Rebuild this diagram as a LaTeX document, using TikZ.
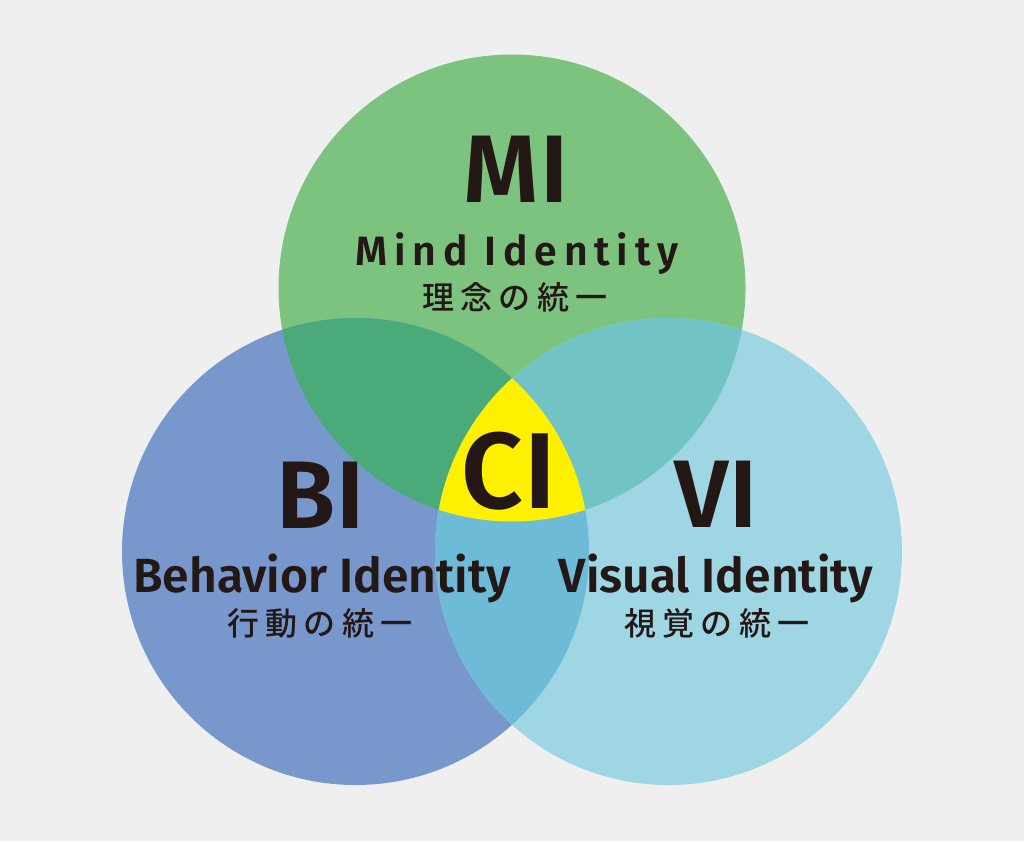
\documentclass[tikz,border=0pt]{standalone}
\usepackage{fontspec}
\newfontfamily\din{Fira Sans}[BoldFont={* SemiBold}]
\newfontfamily\jp{Noto Sans CJK JP}[BoldFont={* Medium}]
\definecolor{bg}{HTML}{EFEFEF}
\definecolor{cG}{HTML}{7DC380}
\definecolor{cB}{HTML}{7898CD}
\definecolor{cV}{HTML}{9ED6E3}
\definecolor{cGB}{HTML}{4BAA7A}
\definecolor{cGV}{HTML}{72C4C4}
\definecolor{cBV}{HTML}{6EBBD8}
\definecolor{cY}{HTML}{FFF000}
\definecolor{ink}{HTML}{231815}
\tikzset{
  big/.style={text=ink, font=\din\bfseries\fontsize{96}{96}\selectfont\addfontfeature{LetterSpace=1}, inner sep=0pt, anchor=base},
  sub/.style={text=ink, font=\din\bfseries\fontsize{48}{48}\selectfont, inner sep=0pt, anchor=base},
  jpl/.style={text=ink, font=\jp\bfseries\fontsize{32}{32}\selectfont\addfontfeature{LetterSpace=20}, inner sep=0pt, anchor=center},
}
\def\R{233.5pt}
\begin{document}
\begin{tikzpicture}[x=1pt,y=-1pt]
\fill[bg] (0,0) rectangle (1024,841);
\useasboundingbox (0,0) rectangle (1024,841);
\coordinate (G) at (512,288);
\coordinate (B) at (355.5,551.5);
\coordinate (V) at (668.5,551.5);
\fill[cG] (G) circle[radius=\R];
\fill[cB] (B) circle[radius=\R];
\fill[cV] (V) circle[radius=\R];
\begin{scope}\clip (G) circle[radius=\R]; \fill[cGB] (B) circle[radius=\R];\end{scope}
\begin{scope}\clip (G) circle[radius=\R]; \fill[cGV] (V) circle[radius=\R];\end{scope}
\begin{scope}\clip (B) circle[radius=\R]; \fill[cBV] (V) circle[radius=\R];\end{scope}
\begin{scope}\clip (G) circle[radius=\R]; \clip (B) circle[radius=\R]; \fill[cY] (V) circle[radius=\R];\end{scope}
\node[big] (mi) at (516,202) {MI};
\node[sub, font=\din\bfseries\fontsize{41}{41}\selectfont\addfontfeature{LetterSpace=16.5}] (mit) at (517,265) {Mind Identity};
\node[jpl] (mij) at (515,297) {理念の統一};
\node[big, font=\din\bfseries\fontsize{108}{108}\selectfont\addfontfeature{LetterSpace=1}] (ci) at (509,508) {CI};
\node[big] (bi) at (321,528) {BI};
\node[sub] (bit) at (322,592) {Behavior Identity};
\node[jpl] (bij) at (320,623) {行動の統一};
\node[big] (vi) at (716,527) {VI};
\node[sub] (vit) at (716,592) {Visual Identity};
\node[jpl] (vij) at (717,623) {視覚の統一};
\end{tikzpicture}
\end{document}
